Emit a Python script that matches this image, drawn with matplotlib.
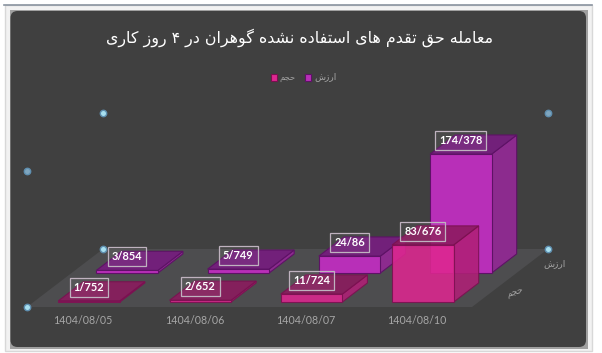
"""
    Oblique 3D column chart, drawn as polygons on a pixel sized axes
"""
import matplotlib
matplotlib.use('Agg')
import matplotlib.pyplot as plt
from matplotlib.patches import Polygon, FancyBboxPatch, Rectangle

title = 'معامله حق تقدم های استفاده نشده گوهران در ۴ روز کاری'
categories = ['1404/08/05', '1404/08/06', '1404/08/07', '1404/08/10']
series_names = ['حجم', 'ارزش']
# values are shown with a slash as decimal mark
volume = [1.752, 2.652, 11.724, 83.676]
value = [3.854, 5.749, 24.86, 174.378]
volume_labels = ['1/752', '2/652', '11/724', '83/676']
value_labels = ['3/854', '5/749', '24/86', '174/378']

W, H = 602, 353

# floor of the 3d box, in pixels
X0, Y0 = 27, 307
DEPTH_X, DEPTH_Y = 76, -58
CAT_W = 111.25
BAR_W = 61.5
BAR_D = 0.66   # share of one series slot
PX_PER_UNIT = 0.682

COLORS = [
    {'front': '#de2790', 'top': '#8c1a5e', 'side': '#b02076', 'edge': '#7a1050'},
    {'front': '#b82fb8', 'top': '#72207a', 'side': '#8c2b8e', 'edge': '#5e1266'},
]

# joining behaviour of the letters used here: these only connect to the right
RIGHT_ONLY = set('اآدذرزژو')
FORMS = {
    'ا': (0xFE8D, 0xFE8E), 'د': (0xFEA9, 0xFEAA), 'ر': (0xFEAD, 0xFEAE), 'ز': (0xFEAF, 0xFEB0),
    'و': (0xFEED, 0xFEEE),
    'ب': (0xFE8F, 0xFE90, 0xFE91, 0xFE92), 'ت': (0xFE95, 0xFE96, 0xFE97, 0xFE98),
    'ج': (0xFE9D, 0xFE9E, 0xFE9F, 0xFEA0), 'ح': (0xFEA1, 0xFEA2, 0xFEA3, 0xFEA4),
    'س': (0xFEB1, 0xFEB2, 0xFEB3, 0xFEB4), 'ش': (0xFEB5, 0xFEB6, 0xFEB7, 0xFEB8),
    'ع': (0xFEC9, 0xFECA, 0xFECB, 0xFECC), 'ف': (0xFED1, 0xFED2, 0xFED3, 0xFED4),
    'ق': (0xFED5, 0xFED6, 0xFED7, 0xFED8), 'ل': (0xFEDD, 0xFEDE, 0xFEDF, 0xFEE0),
    'م': (0xFEE1, 0xFEE2, 0xFEE3, 0xFEE4), 'ن': (0xFEE5, 0xFEE6, 0xFEE7, 0xFEE8),
    'ه': (0xFEE9, 0xFEEA, 0xFEEB, 0xFEEC), 'ک': (0xFB8E, 0xFB8F, 0xFB90, 0xFB91),
    'گ': (0xFB92, 0xFB93, 0xFB94, 0xFB95), 'ی': (0xFBFC, 0xFBFD, 0xFBFE, 0xFBFF),
}


# matplotlib does no arabic shaping, so pick the joined forms by hand
def shape(text):
    out = []
    for i, c in enumerate(text):
        if c not in FORMS:
            out.append(c)
            continue
        prev = text[i - 1] if i > 0 else ' '
        nxt = text[i + 1] if i < len(text) - 1 else ' '
        join_prev = prev in FORMS and prev not in RIGHT_ONLY
        join_next = nxt in FORMS and c not in RIGHT_ONLY
        forms = FORMS[c]
        if join_prev and join_next:
            out.append(chr(forms[3]))
        elif join_next:
            out.append(chr(forms[2]))
        elif join_prev:
            out.append(chr(forms[1]))
        else:
            out.append(chr(forms[0]))
    return ''.join(reversed(out))


def project(cat, depth, height=0):
    x = X0 + cat * CAT_W + depth * DEPTH_X
    y = Y0 + depth * DEPTH_Y - height * PX_PER_UNIT
    return x, y


def draw_bar(ax, i, s, v, colors, label):
    gap = (1 - BAR_W / CAT_W) / 2
    c0, c1 = i + gap, i + 1 - gap
    d0 = (s + (1 - BAR_D) / 2) / 2
    d1 = (s + 1 - (1 - BAR_D) / 2) / 2
    top = [project(c0, d0, v), project(c1, d0, v), project(c1, d1, v), project(c0, d1, v)]
    front = [project(c0, d0), project(c1, d0), project(c1, d0, v), project(c0, d0, v)]
    side = [project(c1, d0), project(c1, d1), project(c1, d1, v), project(c1, d0, v)]
    alpha = 0.88 if s == 0 else 1
    z = 3 + 3 * (1 - s)
    ax.add_patch(Polygon(side, fc=colors['side'], ec=colors['edge'], lw=0.8, alpha=alpha, zorder=z))
    ax.add_patch(Polygon(top, fc=colors['top'], ec=colors['edge'], lw=0.8, alpha=alpha, zorder=z))
    ax.add_patch(Polygon(front, fc=colors['front'], ec=colors['edge'], lw=0.8, alpha=alpha, zorder=z))
    # data label sits on the front edge of the top
    lx = (front[2][0] + front[3][0]) / 2
    ly = front[2][1] - 13.5
    ax.text(lx, ly, label, color='white', fontsize=7.9, fontweight='bold', family='Lato',
            ha='center', va='center', zorder=9,
            bbox=dict(boxstyle='square,pad=0.36', fc=(1, 1, 1, 0.05), ec='#bfb2bf', lw=0.9))


fig = plt.figure(figsize=(W / 100, H / 100), dpi=100, facecolor='white')
ax = fig.add_axes([0, 0, 1, 1])
ax.set_xlim(0, W)
ax.set_ylim(H, 0)
ax.axis('off')

# selection frame around the chart object
ax.add_patch(Rectangle((4.5, 4.5), 587, 346, fc='#f2f2f2', ec='#d8d8d8', lw=1, zorder=0))
ax.plot([4, 592], [4.5, 4.5], color='#8a94a0', lw=1.2, zorder=1)
ax.add_patch(Rectangle((9.5, 10), 578, 338.5, fc='#a0a0a0', ec='none', zorder=1))
ax.add_patch(FancyBboxPatch((15.5, 16), 565.5, 326, boxstyle='round,pad=5,rounding_size=7', fc='#404040', ec='none',
                            zorder=2))

ax.text(299.5, 38, shape(title), color='white', fontsize=11.4, family='DejaVu Sans', ha='center', va='center', zorder=9)

# floor
floor = [project(0, 0), project(len(categories), 0), project(len(categories), 1), project(0, 1)]
ax.add_patch(Polygon(floor, fc='#4d4d4f', ec='none', zorder=2.5))

for i in range(len(categories)):
    draw_bar(ax, i, 1, value[i], COLORS[1], value_labels[i])
for i in range(len(categories)):
    draw_bar(ax, i, 0, volume[i], COLORS[0], volume_labels[i])

for i, c in enumerate(categories):
    ax.text(project(i + 0.5, 0)[0] + 0.5, 321, c, color='#a6a6a6', fontsize=7.7, family='Lato', ha='center', va='center',
            zorder=9)

# depth axis labels
ax.text(515, 293, shape(series_names[0]), color='#a6a6a6', fontsize=6.5, family='DejaVu Sans', rotation=18, ha='center',
        va='center', zorder=9)
ax.text(555, 264, shape(series_names[1]), color='#a6a6a6', fontsize=6.5, family='DejaVu Sans', ha='center', va='center',
        zorder=9)

# legend
ax.add_patch(Rectangle((270.5, 73.5), 6.5, 7, fc=COLORS[0]['front'], ec=COLORS[0]['edge'], lw=0.8, zorder=9))
ax.text(279, 77, shape(series_names[0]), color='#a6a6a6', fontsize=6, family='DejaVu Sans', ha='left', va='center',
        zorder=9)
ax.add_patch(Rectangle((304.5, 74), 6.5, 6.5, fc=COLORS[1]['front'], ec=COLORS[1]['edge'], lw=0.8, zorder=9))
ax.text(314, 77, shape(series_names[1]), color='#a6a6a6', fontsize=6.5, family='DejaVu Sans', ha='left', va='center',
        zorder=9)

# selection handles at the box corners, the far ones are dull
for cat, depth, height, dull in [(0, 1, 0, False), (0, 0, 0, False), (0, 1, 199, False), (0, 0, 199, True),
                                 (len(categories), 1, 0, False), (len(categories), 1, 199, True)]:
    px, py = project(cat, depth, height)
    ax.plot(px, py, 'o', ms=4.6, mfc='#7fa6bf' if dull else '#a8e0f0', mec='#5f8fb0', mew=1, zorder=10)

fig.savefig('out.png', dpi=100, facecolor='white')
